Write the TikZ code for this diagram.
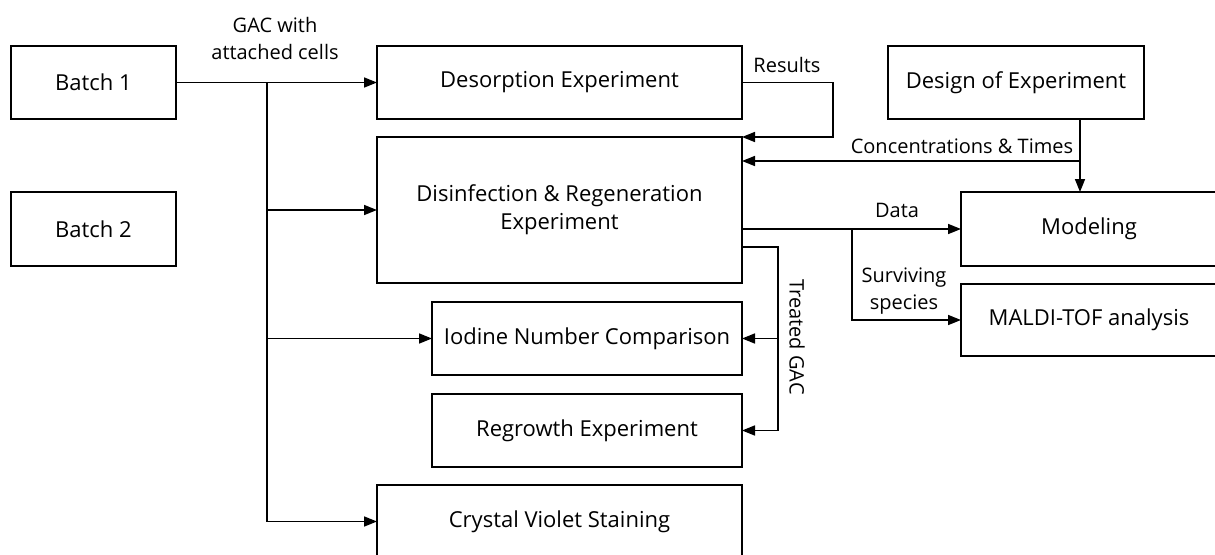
\documentclass[tikz,border=0pt]{standalone}
\usepackage{fontspec}
\setmainfont{Open Sans}
\usetikzlibrary{arrows.meta,calc}
\begin{document}
\begin{tikzpicture}[x=1pt,y=-1pt,
  box/.style={draw=black,line width=1.6pt,rectangle,inner sep=0pt,outer sep=0pt,align=center,font=\fontsize{22}{28}\selectfont},
  lbl/.style={align=center,inner sep=0pt,font=\fontsize{20}{27}\selectfont},
  con/.style={draw=black,line width=1.6pt},
  arr/.style={con,-{Triangle[length=13pt,width=10pt]}}]
\useasboundingbox (0,0) rectangle (1215,554);
\clip (0,0) rectangle (1215,554);
% boxes
\node[box,minimum width=165pt,minimum height=73pt] (b1) at (93.5,82.5) {Batch 1};
\node[box,minimum width=165pt,minimum height=74pt] (b2) at (93.5,229) {Batch 2};
\node[box,minimum width=365pt,minimum height=73pt] (des) at (559.5,82.5) {Desorption Experiment};
\node[box,minimum width=365pt,minimum height=146pt] (dis) at (559.5,210) {Disinfection \& Regeneration\\Experiment};
\node[box,minimum width=256pt,minimum height=73pt] (doe) at (1016,82.5) {Design of Experiment};
\node[box,minimum width=256pt,minimum height=74pt] (mod) at (1089,229) {Modeling};
\node[box,minimum width=256pt,minimum height=72pt] (mal) at (1089,320) {MALDI-TOF analysis};
\node[box,minimum width=310pt,minimum height=73pt] (iod) at (587,338.5) {Iodine Number Comparison};
\node[box,minimum width=310pt,minimum height=73pt] (reg) at (587,430.5) {Regrowth Experiment};
\node[box,minimum width=365pt,minimum height=73pt] (cv) at (559.5,521.5) {Crystal Violet Staining};
% coordinates
\coordinate (j) at (267,82.5);
\coordinate (r) at (833,82.5);
\coordinate (dc) at (1080,119);
\coordinate (cc) at (1080,161);
\coordinate (db) at (852,229);
\coordinate (tg) at (778,247);
% connectors
\draw[arr] (b1.east) -- (des.west);
\draw[con] (j) -- (j |- cv.west);
\draw[arr] (j |- dis.west) -- (dis.west);
\draw[arr] (j |- iod.west) -- (iod.west);
\draw[arr] (j |- cv.west) -- (cv.west);
\draw[arr] (des.east) -- (r) |- (dis.north east);
\draw[arr] (dc) -- (dc |- mod.north);
\draw[arr] (cc) -- (cc -| dis.east);
\draw[arr] (dis.east |- mod.west) -- (mod.west);
\draw[arr] (db) |- (mal.west);
\draw[arr] (dis.east |- tg) -- (tg) |- (reg.east);
\draw[arr] (tg |- iod.east) -- (iod.east);
% labels
\node[lbl] (l1) at (275,38.5) {GAC with\\attached cells};
\node[lbl] (l2) at (787,65) {Results};
\node[lbl] (l3) at (962,146) {Concentrations \& Times};
\node[lbl] (l4) at (897,210) {Data};
\node[lbl] (l5) at (904,291.5) {Surviving\\species};
\node[lbl,rotate=-90] (l6) at (797,337) {Treated GAC};
\end{tikzpicture}
\end{document}
